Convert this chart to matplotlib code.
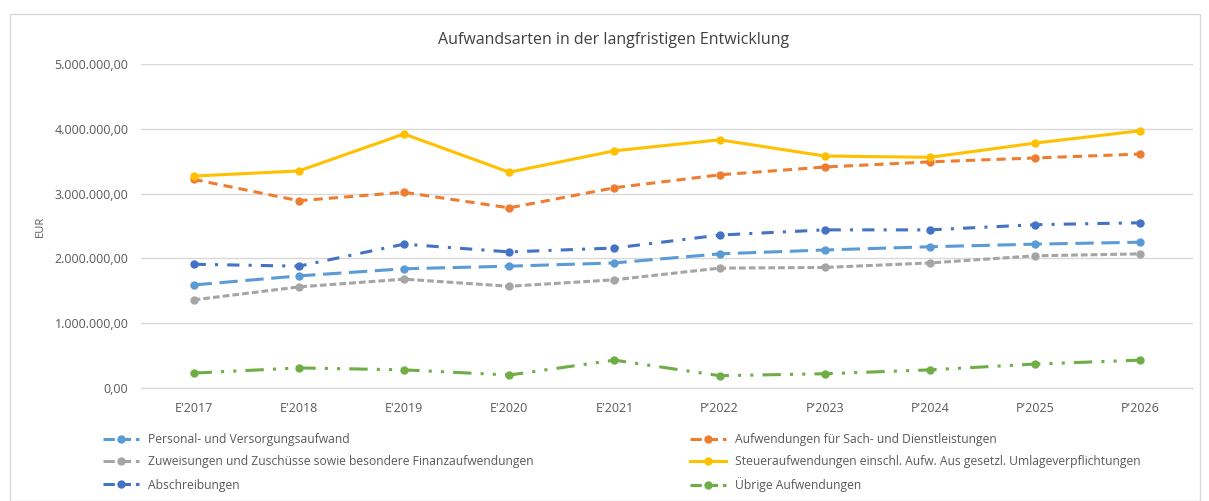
import matplotlib
matplotlib.use("Agg")
import matplotlib.pyplot as plt
from matplotlib.lines import Line2D
from matplotlib.patches import Rectangle
from matplotlib.ticker import FuncFormatter

categories = ["E'2017", "E'2018", "E'2019", "E'2020", "E'2021",
              "P'2022", "P'2023", "P'2024", "P'2025", "P'2026"]

personal = [1.59e6, 1.73e6, 1.84e6, 1.88e6, 1.93e6, 2.07e6, 2.13e6, 2.18e6, 2.22e6, 2.25e6]
sach = [3.22e6, 2.89e6, 3.02e6, 2.78e6, 3.09e6, 3.29e6, 3.41e6, 3.49e6, 3.55e6, 3.61e6]
zuweisungen = [1.36e6, 1.56e6, 1.68e6, 1.57e6, 1.67e6, 1.85e6, 1.86e6, 1.93e6, 2.04e6, 2.07e6]
steuer = [3.27e6, 3.35e6, 3.92e6, 3.33e6, 3.66e6, 3.83e6, 3.58e6, 3.56e6, 3.78e6, 3.97e6]
abschreibungen = [1.91e6, 1.88e6, 2.22e6, 2.10e6, 2.16e6, 2.36e6, 2.44e6, 2.44e6, 2.52e6, 2.55e6]
uebrige = [0.23e6, 0.31e6, 0.28e6, 0.20e6, 0.43e6, 0.19e6, 0.22e6, 0.28e6, 0.37e6, 0.43e6]

names = ["Personal- und Versorgungsaufwand",
         "Aufwendungen für Sach- und Dienstleistungen",
         "Zuweisungen und Zuschüsse sowie besondere Finanzaufwendungen",
         "Steueraufwendungen einschl. Aufw. Aus gesetzl. Umlageverpflichtungen",
         "Abschreibungen",
         "Übrige Aufwendungen"]
series = [personal, sach, zuweisungen, steuer, abschreibungen, uebrige]
colors = ["#5B9BD5", "#ED7D31", "#A5A5A5", "#FFC000", "#4472C4", "#70AD47"]
styles = [(0, (6, 2.5)), (0, (3, 2)), (0, (2.2, 1)), "-", (0, (4, 3, 1, 3)),
          (0, (6, 3, 1, 3, 1, 3))]

plt.rcParams['font.family'] = ['Open Sans', 'DejaVu Sans']
fig = plt.figure(figsize=(12.09, 5.01), dpi=100)
fig.patches.append(Rectangle((10/1209, 0.0), 1190/1209, 1 - 14/501, transform=fig.transFigure,
                             fill=False, edgecolor="#D9D9D9", linewidth=1))

ax = fig.add_axes([141/1209, 1 - 388/501, 1052/1209, (388 - 64)/501])
x = list(range(len(categories)))
handles = []
for vals, name, c, ls in zip(series, names, colors, styles):
    h, = ax.plot(x, vals, color=c, linestyle=ls, linewidth=2.2, marker='o',
                 markersize=5, label=name, zorder=3)
    handles.append(h)

ax.set_xlim(-0.5, len(categories) - 0.5)
ax.set_ylim(0, 5e6)
ax.set_yticks([0, 1e6, 2e6, 3e6, 4e6, 5e6])
ax.yaxis.set_major_formatter(FuncFormatter(
    lambda v, p: f"{v:,.2f}".replace(",", "X").replace(".", ",").replace("X", ".")))
ax.set_xticks(x)
ax.set_xticklabels(categories)
ax.grid(axis='y', color="#D9D9D9", linewidth=1)
ax.set_axisbelow(True)
for s in ["top", "right", "left"]:
    ax.spines[s].set_visible(False)
ax.spines["bottom"].set_color("#D9D9D9")
ax.tick_params(axis='both', length=0, labelsize=9, colors="#595959")
ax.tick_params(axis='x', pad=10)
ax.tick_params(axis='y', pad=9)
ax.set_ylabel("EUR", fontsize=8, color="#595959", labelpad=6)
fig.text(614/1209, 1 - 40/501, "Aufwandsarten in der langfristigen Entwicklung",
         fontsize=11.5, color="#404040", ha="center", va="center")

def mk(h):
    return Line2D([], [], color=h.get_color(), linestyle=h.get_linestyle(),
                  linewidth=2.2, marker='o', markersize=5)

# legend entries: (series index, x of handle start, y centre) in pixels
order = [0, 1, 2, 3, 4, 5]
col_x = [103, 690]
row_y = [440, 462, 485]
for k, i in enumerate(order):
    cx = col_x[k % 2]
    cy = row_y[k // 2]
    fig.legend([mk(handles[i])], [names[i]], loc="center left",
               bbox_to_anchor=(cx/1209, 1 - cy/501), frameon=False, fontsize=8.7,
               handlelength=3.0, handletextpad=0.7, labelcolor="#595959",
               borderpad=0, borderaxespad=0)

fig.savefig("out.png", dpi=100)
